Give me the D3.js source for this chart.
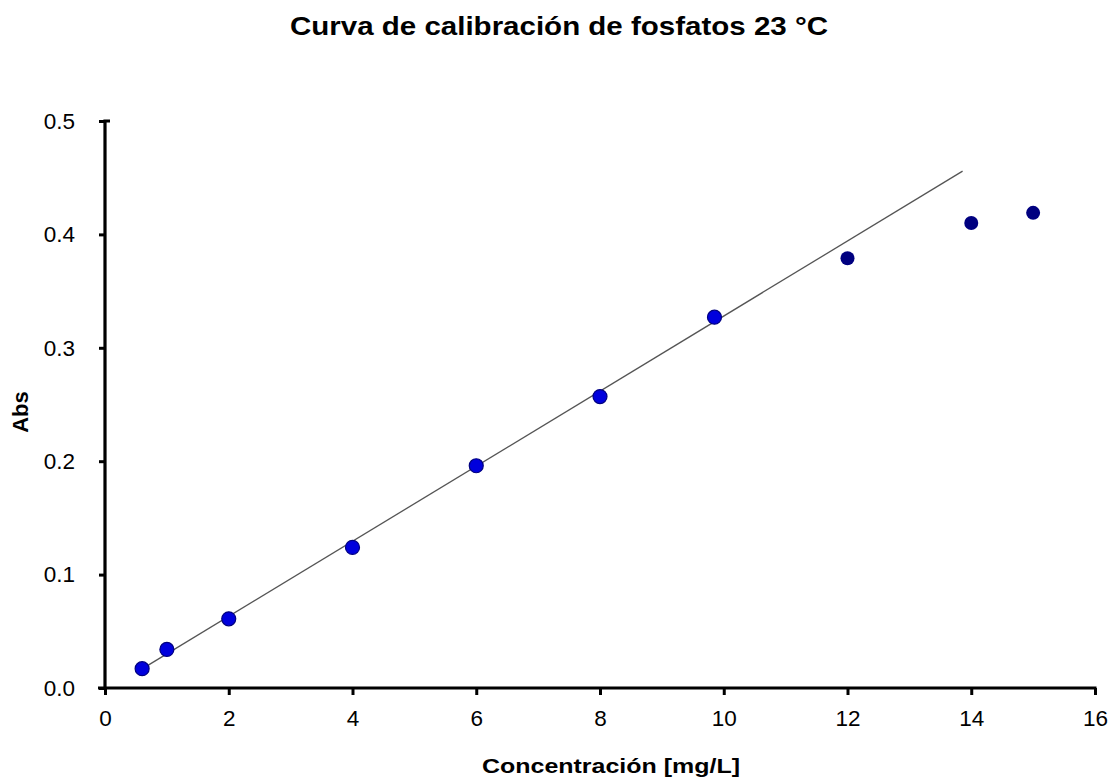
<!DOCTYPE html>
<html>
<head>
<meta charset="utf-8">
<script src="https://cdn.jsdelivr.net/npm/d3@7"></script>
<style>
  html, body { margin: 0; padding: 0; background: #fff; }
  svg { display: block; font-family: "Liberation Sans", Arial, sans-serif; }
</style>
</head>
<body>
<svg id="chart" width="1112" height="780"></svg>
<script>
// Calibration standards used for the fit (linear range)
const concFit = [0.6, 1.0, 2.0, 4.0, 6.0, 8.0, 9.85];
const absFit  = [0.017, 0.034, 0.061, 0.124, 0.196, 0.257, 0.327];

// Standards above the linear range
const concHigh = [12.0, 14.0, 15.0];
const absHigh  = [0.379, 0.410, 0.419];

// Linear trend line: Abs = slope * C + intercept
const trendSlope = 0.0331;
const trendIntercept = -0.003;
const trendRange = [0.6, 13.86];

const xTicks = [0, 2, 4, 6, 8, 10, 12, 14, 16];
const yTicks = [0.0, 0.1, 0.2, 0.3, 0.4, 0.5];

const svg = d3.select("#chart");

const x = d3.scaleLinear().domain([0, 16]).range([105, 1095]);
const y = d3.scaleLinear().domain([0, 0.5]).range([688, 121]);

// Title
svg.append("text")
  .attr("x", 559).attr("y", 35)
  .attr("text-anchor", "middle")
  .attr("font-size", 26).attr("font-weight", "bold")
  .attr("textLength", 538).attr("lengthAdjust", "spacingAndGlyphs")
  .text("Curva de calibración de fosfatos 23 °C");

// Axes
const xAxis = svg.append("g")
  .attr("transform", `translate(0,${y(0)})`)
  .call(d3.axisBottom(x).tickValues(xTicks).tickFormat(d3.format("d")).tickSizeOuter(0).tickSize(7).tickPadding(15));
const yAxis = svg.append("g")
  .attr("transform", `translate(${x(0)},0)`)
  .call(d3.axisLeft(y).tickValues(yTicks).tickFormat(d3.format(".1f")).tickSizeOuter(0).tickSize(6).tickPadding(24));

[xAxis, yAxis].forEach(g => {
  g.select(".domain").attr("stroke", "#000").attr("stroke-width", 3.2);
  g.selectAll(".tick line").attr("stroke", "#000").attr("stroke-width", 3);
  g.selectAll(".tick text").attr("font-size", 22.5).attr("fill", "#000")
    .attr("font-family", "Liberation Sans, Arial, sans-serif");
});
// extend x axis line slightly left of the y axis
xAxis.select(".domain").attr("d", `M${x(0) - 7},0H${x(16) + 1.5}`);
yAxis.select(".domain").attr("d", `M0,${y(0)}V${y(0.5)}H5`);

// Axis titles
svg.append("text")
  .attr("x", 611).attr("y", 773)
  .attr("text-anchor", "middle")
  .attr("font-size", 21).attr("font-weight", "bold")
  .attr("textLength", 258).attr("lengthAdjust", "spacingAndGlyphs")
  .text("Concentración [mg/L]");
svg.append("text")
  .attr("transform", "translate(28,412) rotate(-90)")
  .attr("text-anchor", "middle")
  .attr("font-size", 22).attr("font-weight", "bold")
  .text("Abs");

// Trend line
const line = d3.line().x(d => x(d)).y(d => y(trendSlope * d + trendIntercept));
svg.append("path")
  .datum(trendRange)
  .attr("d", line)
  .attr("fill", "none")
  .attr("stroke", "#555")
  .attr("stroke-width", 1.3);

// Points in the linear range
svg.append("g").selectAll("circle")
  .data(concFit.map((c, i) => [c, absFit[i]]))
  .join("circle")
  .attr("cx", d => x(d[0])).attr("cy", d => y(d[1]))
  .attr("r", 7)
  .attr("fill", "#0000dd")
  .attr("stroke", "#000080").attr("stroke-width", 1.2);

// Points above the linear range
svg.append("g").selectAll("circle")
  .data(concHigh.map((c, i) => [c, absHigh[i]]))
  .join("circle")
  .attr("cx", d => x(d[0])).attr("cy", d => y(d[1]))
  .attr("r", 7)
  .attr("fill", "#000080");
</script>
</body>
</html>
